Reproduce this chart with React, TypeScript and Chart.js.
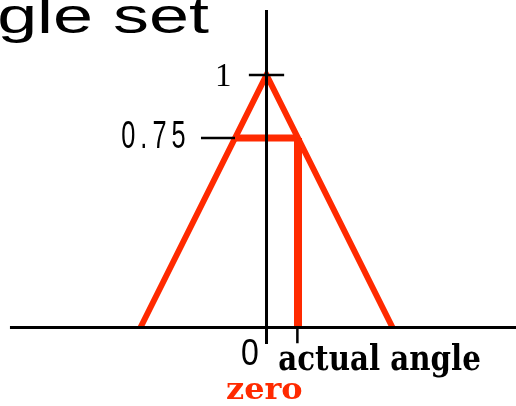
import React, { useEffect, useRef } from "react";
import { Chart, registerables } from "chart.js";

Chart.register(...registerables);

// ---- data ----
const membershipX = [-1, 0, 1];
const membershipY = [0, 1, 0];
const actualAngle = 0.25;
const actualMembership = 0.75;
const yTickValues = [1, 0.75];
const yTickLabels = ["1", "0.75"];
const originLabel = "0";
const angleLabel = "actual angle";
const zeroLabel = "zero";
const titleText = "gle set";

// view extents (data units)
const X_MIN = -2.115;
const X_MAX = 1.98;
const Y_MIN = -0.311;
const Y_MAX = 1.297;
const AXIS_X_START = -2.036;
const AXIS_Y_TOP = 1.257;
const AXIS_Y_BOTTOM = -0.065;

const RED = "#ff2a00";
const BLACK = "#000000";

function fitText(
  ctx: CanvasRenderingContext2D,
  text: string,
  font: string,
  color: string,
  left: number,
  right: number,
  top: number | null,
  baseline: number,
  spacing = "0px"
) {
  ctx.save();
  ctx.font = font;
  (ctx as any).letterSpacing = spacing;
  ctx.fillStyle = color;
  ctx.textAlign = "left";
  ctx.textBaseline = "alphabetic";
  const m = ctx.measureText(text);
  const inkW = m.actualBoundingBoxRight + m.actualBoundingBoxLeft;
  const sx = (right - left) / inkW;
  const sy = top === null ? 1 : (baseline - top) / m.actualBoundingBoxAscent;
  ctx.translate(left + m.actualBoundingBoxLeft * sx, baseline);
  ctx.scale(sx, sy);
  ctx.fillText(text, 0, 0);
  ctx.restore();
}

const textPlugin = {
  id: "textLabels",
  afterDatasetsDraw(chart: any) {
    const ctx = chart.ctx as CanvasRenderingContext2D;
    const xs = chart.scales.x;
    const ys = chart.scales.y;
    const x0 = xs.getPixelForValue(0);
    const xa = xs.getPixelForValue(actualAngle);
    const yBase = ys.getPixelForValue(0);
    const y1 = ys.getPixelForValue(yTickValues[0]);
    const y075 = ys.getPixelForValue(yTickValues[1]);

    // title (cropped)
    fitText(ctx, titleText, "50px 'Liberation Sans'", BLACK, 0, 209, null, 32.5);

    // y tick labels
    fitText(ctx, yTickLabels[0], "33px 'Liberation Serif'", BLACK, x0 - 49.5, x0 - 36.5, y1 - 12, y1 + 11);
    fitText(ctx, yTickLabels[1], "30px 'Liberation Sans'", BLACK, x0 - 144.5, x0 - 81.5, y075 - 16, y075 + 10, "6px");

    // x labels
    fitText(ctx, originLabel, "30px 'Liberation Sans'", BLACK, x0 - 24.5, x0 - 8.5, yBase + 12.5, yBase + 37.5);
    fitText(ctx, angleLabel, "bold 38px 'DejaVu Serif'", BLACK, xa - 19, xa + 182, yBase + 15.5, yBase + 42.5);
    fitText(ctx, zeroLabel, "bold 31px 'DejaVu Serif'", RED, x0 - 39.5, x0 + 35.5, yBase + 55.5, yBase + 71.5);
  },
};

function seg(data: { x: number; y: number }[], color: string, width: number) {
  return {
    data,
    borderColor: color,
    backgroundColor: color,
    borderWidth: width,
    pointRadius: 0,
    showLine: true,
    tension: 0,
    fill: false,
    borderJoinStyle: "miter" as const,
    borderCapStyle: "butt" as const,
  };
}

export default function App() {
  const canvasRef = useRef<HTMLCanvasElement | null>(null);

  useEffect(() => {
    const canvas = canvasRef.current;
    if (!canvas) return;
    const triangle = membershipX.map((x, i) => ({ x, y: membershipY[i] }));
    const chart = new Chart(canvas, {
      type: "scatter",
      data: {
        datasets: [
          seg([{ x: AXIS_X_START, y: 0 }, { x: X_MAX, y: 0 }], BLACK, 3),
          seg([{ x: 0, y: AXIS_Y_TOP }, { x: 0, y: AXIS_Y_BOTTOM }], BLACK, 3),
          seg([{ x: -0.14, y: yTickValues[0] }, { x: 0.14, y: yTickValues[0] }], BLACK, 2.5),
          seg([{ x: -0.52, y: yTickValues[1] }, { x: -0.25, y: yTickValues[1] }], BLACK, 2.5),
          seg([{ x: actualAngle - 0.005, y: 0 }, { x: actualAngle - 0.005, y: -0.062 }], BLACK, 2.5),
          seg(triangle, RED, 6),
          seg([{ x: -actualAngle, y: actualMembership }, { x: actualAngle, y: actualMembership }], RED, 7),
          seg([{ x: actualAngle, y: actualMembership }, { x: actualAngle, y: 0 }], RED, 8),
        ] as any,
      },
      options: {
        animation: false,
        responsive: false,
        devicePixelRatio: 1,
        layout: { padding: 0 },
        plugins: { legend: { display: false }, tooltip: { enabled: false }, title: { display: false } },
        scales: {
          x: { type: "linear", min: X_MIN, max: X_MAX, display: false },
          y: { type: "linear", min: Y_MIN, max: Y_MAX, display: false },
        },
        events: [],
      } as any,
      plugins: [textPlugin],
    });
    return () => chart.destroy();
  }, []);

  return (
    <div style={{ position: "absolute", left: 0, top: 0, width: 516, height: 406, background: "#fff" }}>
      <canvas ref={canvasRef} width={516} height={406} style={{ width: 516, height: 406, display: "block" }} />
    </div>
  );
}
